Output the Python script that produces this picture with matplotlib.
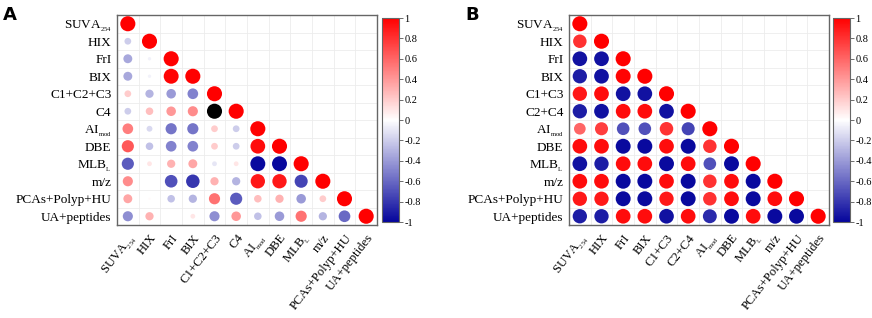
import numpy as np
import matplotlib
matplotlib.use('Agg')
import matplotlib.pyplot as plt
from matplotlib.colors import LinearSegmentedColormap, Normalize

plt.rcParams['font.family'] = 'Liberation Serif'
plt.rcParams['mathtext.fontset'] = 'custom'
plt.rcParams['mathtext.rm'] = 'Liberation Serif'
plt.rcParams['mathtext.default'] = 'regular'

labels_a = [r'SUVA$_{_{254}}$', 'HIX', 'FrI', 'BIX', 'C1+C2+C3', 'C4', r'AI$_{_{mod}}$',
            'DBE', r'MLB$_{_{L}}$', 'm/z', 'PCAs+Polyp+HU', 'UA+peptides']
labels_b = [r'SUVA$_{_{254}}$', 'HIX', 'FrI', 'BIX', 'C1+C3', 'C2+C4', r'AI$_{_{mod}}$',
            'DBE', r'MLB$_{_{L}}$', 'm/z', 'PCAs+Polyp+HU', 'UA+peptides']

# lower triangle, row by row (diagonal included)
rows_a = [
    [1],
    [-0.2, 1],
    [-0.35, -0.05, 1],
    [-0.35, -0.05, 0.98, 1],
    [0.2, -0.3, -0.4, -0.5, 1],
    [-0.2, 0.25, 0.4, 0.45, 1, 1],
    [0.5, -0.15, -0.55, -0.55, 0.2, -0.2, 1],
    [0.65, -0.25, -0.5, -0.5, 0.2, -0.2, 0.95, 1],
    [-0.65, 0.1, 0.3, 0.35, -0.1, 0.1, -0.98, -0.98, 1],
    [0.45, 0.0, -0.7, -0.8, 0.3, -0.3, 0.9, 0.9, -0.75, 1],
    [0.35, 0.02, -0.25, -0.3, 0.55, -0.65, 0.25, 0.3, -0.4, 0.2, 1],
    [-0.45, 0.3, 0.0, 0.1, -0.45, 0.4, -0.25, -0.4, 0.55, -0.3, -0.6, 1],
]
black_cells_a = [(5, 4)]

rows_b = [
    [1],
    [0.8, 1],
    [-0.95, -0.95, 1],
    [-0.9, -0.95, 0.98, 1],
    [0.9, 0.95, -0.95, -0.95, 1],
    [-0.9, -0.95, 0.95, 0.95, -0.95, 1],
    [0.6, 0.75, -0.7, -0.7, 0.8, -0.75, 1],
    [0.95, 0.95, -0.98, -0.98, 0.95, -0.98, 0.8, 1],
    [-0.95, -0.9, 0.95, 0.95, -0.98, 0.95, -0.7, -0.98, 1],
    [0.95, 0.95, -0.98, -0.98, 0.95, -0.98, 0.8, 0.95, -0.98, 1],
    [0.9, 0.9, -0.98, -0.98, 0.9, -0.98, 0.8, 0.95, -0.98, 0.95, 1],
    [-0.9, -0.9, 0.95, 0.95, -0.95, 0.95, -0.85, -0.98, 0.95, -0.98, -0.98, 1],
]
black_cells_b = []

cmap = LinearSegmentedColormap.from_list('blrd', ['#05059C', '#FFFFFF', '#FF0000'])
norm = Normalize(-1, 1)

W, H = 872, 318
fig = plt.figure(figsize=(W / 100, H / 100), dpi=100)


def box(x0, y0, x1, y1):
    return [x0 / W, 1 - y1 / H, (x1 - x0) / W, (y1 - y0) / H]


def panel(ax, cax, labels, rows, black_cells):
    n = len(labels)
    xs, ys, vs = [], [], []
    for i, r in enumerate(rows):
        for j, v in enumerate(r):
            xs.append(j)
            ys.append(i)
            vs.append(v)
    xs, ys, vs = np.array(xs), np.array(ys), np.array(vs)
    cols = cmap(norm(vs))
    for k in range(len(vs)):
        if (ys[k], xs[k]) in black_cells:
            cols[k] = (0, 0, 0, 1)
    ax.scatter(xs, ys, s=118 * np.abs(vs), c=cols, linewidths=0, zorder=3)
    ax.set_xlim(-0.5, n - 0.5)
    ax.set_ylim(n - 0.5, -0.5)
    ax.set_xticks(range(n))
    ax.set_yticks(range(n))
    ax.set_xticklabels(labels, rotation=52, ha='right', va='top',
                       rotation_mode='anchor', fontsize=9.2)
    ax.set_yticklabels(labels, fontsize=9.5)
    ax.tick_params(axis='y', length=0, pad=4)
    ax.tick_params(axis='x', length=0, pad=5)
    ax.set_xticks(np.arange(-0.5, n, 1), minor=True)
    ax.set_yticks(np.arange(-0.5, n, 1), minor=True)
    ax.tick_params(which='minor', length=0)
    ax.grid(which='minor', color='#ececec', linewidth=0.6, zorder=0)
    for s in ax.spines.values():
        s.set_color('#666666')
        s.set_linewidth(1.0)
    ax.set_axisbelow(True)

    sm = plt.cm.ScalarMappable(norm=norm, cmap=cmap)
    cb = fig.colorbar(sm, cax=cax)
    ticks = np.round(np.arange(-1, 1.01, 0.2), 1)
    cb.set_ticks(ticks)
    cb.set_ticklabels(['%g' % t if t != 0 else '0' for t in ticks])
    cb.ax.tick_params(labelsize=7.5, length=3, width=0.6, color='#555555', pad=1)
    cb.outline.set_edgecolor('#666666')
    cb.outline.set_linewidth(0.8)


ax_a = fig.add_axes(box(117, 15, 377, 225))
cax_a = fig.add_axes(box(382, 18, 399, 222))
panel(ax_a, cax_a, labels_a, rows_a, black_cells_a)

ax_b = fig.add_axes(box(569, 15, 829, 225))
cax_b = fig.add_axes(box(833, 18, 850, 222))
panel(ax_b, cax_b, labels_b, rows_b, black_cells_b)

fig.text(3 / W, 1 - 6 / H, 'A', fontsize=13, fontweight='bold', family='DejaVu Sans',
         ha='left', va='top')
fig.text(465 / W, 1 - 6 / H, 'B', fontsize=13, fontweight='bold', family='DejaVu Sans',
         ha='left', va='top')

fig.savefig('out.png', dpi=100)
